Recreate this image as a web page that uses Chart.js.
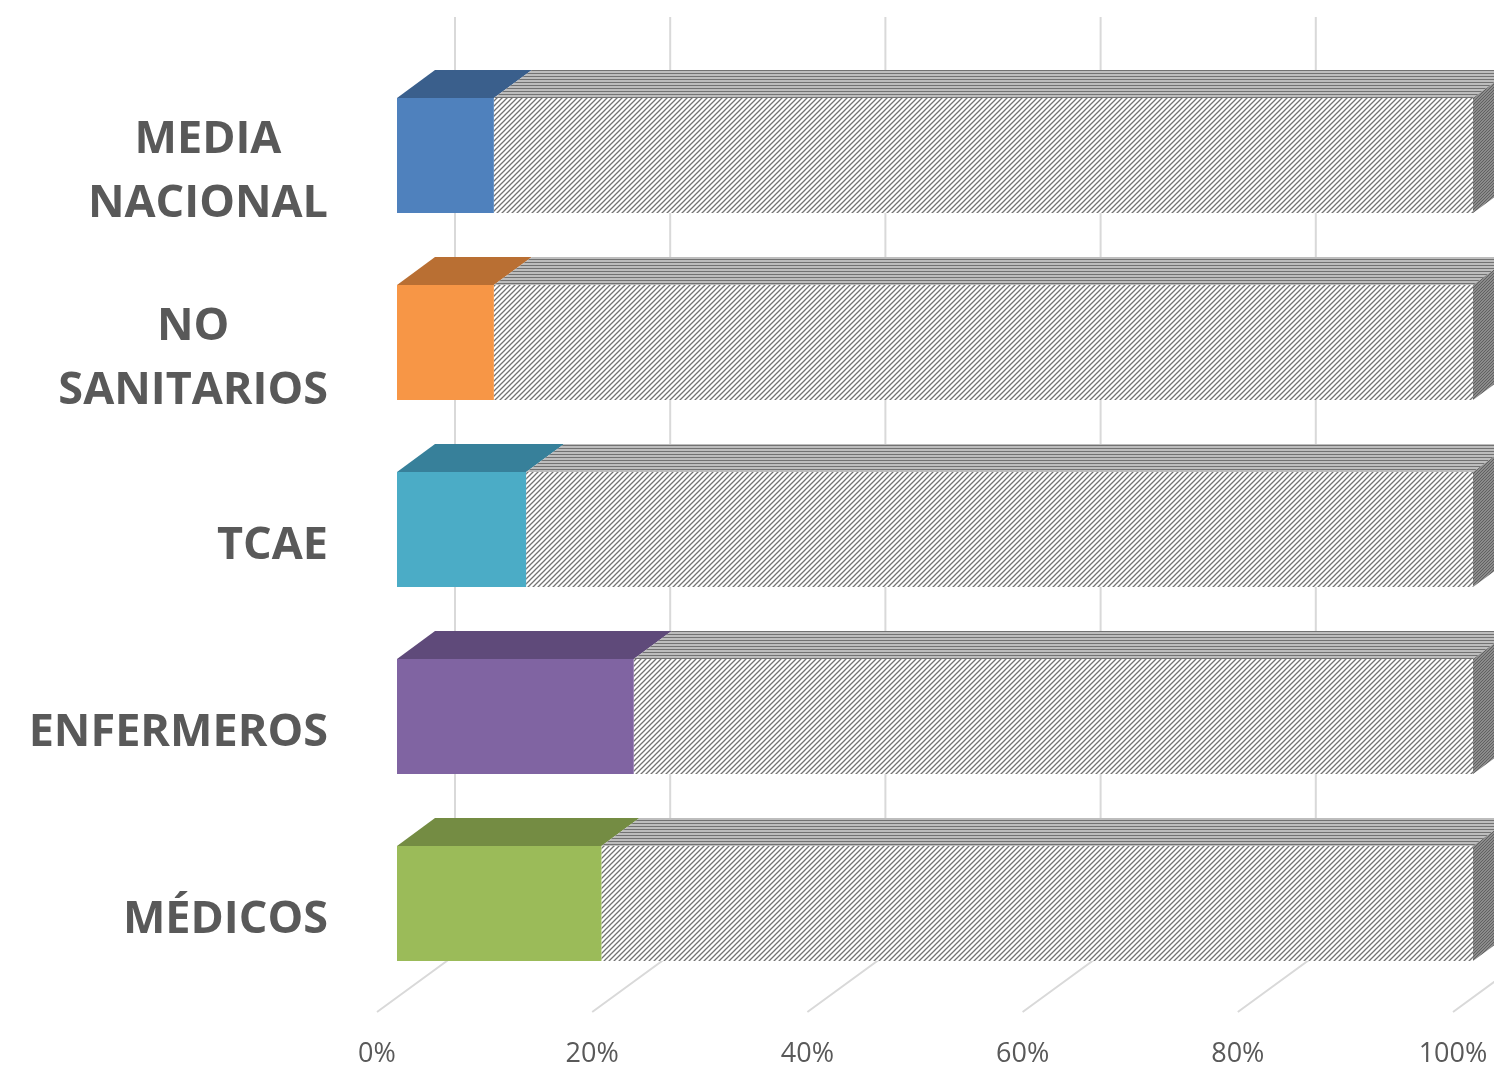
<!DOCTYPE html>
<html>
<head>
<meta charset="utf-8">
<script src="https://cdn.jsdelivr.net/npm/chart.js@4.4.1/dist/chart.umd.min.js"></script>
<style>
    html, body { margin: 0; padding: 0; background: #ffffff; }
    #wrap { width: 1494px; height: 1068px; }
</style>
</head>
<body>
<div id="wrap"><canvas id="grafico" width="1494" height="1068"></canvas></div>
<script>
// Categorías (de arriba abajo) y valores
const categorias = [['MEDIA', 'NACIONAL'], ['NO', 'SANITARIOS'], ['TCAE'], ['ENFERMEROS'], ['MÉDICOS']];
const valoresSi = [0.09, 0.09, 0.12, 0.22, 0.19];
const valoresResto = [0.91, 0.91, 0.88, 0.78, 0.81];
const ticksX = [0, 0.2, 0.4, 0.6, 0.8, 1];

// Colores frente / cara superior
const coloresFrente = ['#4F81BD', '#F79646', '#4BACC6', '#8064A2', '#9BBB59'];
const coloresArriba = ['#3A5F8C', '#B96F33', '#37809A', '#5F4A7A', '#748C43'];

// Profundidad 3D
const DX = 38, DY = 28;

// Trama diagonal para la parte gris
function crearTrama(fondo, linea, tam, grosor, tipo) {
    const c = document.createElement('canvas');
    c.width = tam; c.height = tam;
    const g = c.getContext('2d');
    g.fillStyle = fondo;
    g.fillRect(0, 0, tam, tam);
    g.strokeStyle = linea;
    g.lineWidth = grosor;
    g.beginPath();
    if (tipo === 'diag') {
        g.moveTo(-1, tam + 1); g.lineTo(tam + 1, -1);
        g.moveTo(-1, 1); g.lineTo(1, -1);
        g.moveTo(tam - 1, tam + 1); g.lineTo(tam + 1, tam - 1);
    } else {
        g.moveTo(0, tam / 2); g.lineTo(tam, tam / 2);
    }
    g.stroke();
    return g.createPattern(c, 'repeat');
}

const ctx = document.getElementById('grafico').getContext('2d');
const tramaFrente = crearTrama('#ffffff', '#737373', 5, 1.3, 'diag');
const tramaArriba = crearTrama('#bdbdbd', '#727272', 3, 1, 'horiz');
const tramaLado = crearTrama('#a0a0a0', '#5e5e5e', 3, 1.2, 'diag');

// Plugin: paredes, suelo y caras 3D de las barras
const efecto3D = {
    id: 'efecto3D',
    beforeDatasetsDraw(chart) {
        const c = chart.ctx;
        const area = chart.chartArea;
        const xs = chart.scales.x;
        c.save();
        c.strokeStyle = '#d9d9d9';
        c.lineWidth = 2;
        ticksX.forEach(v => {
            const xf = xs.getPixelForValue(v) - 20;
            const xb = xf + 78;
            c.beginPath();
            c.moveTo(xb, 17);
            c.lineTo(xb, area.bottom - 42);
            c.lineTo(xf, area.bottom + 15);
            c.stroke();
        });
        c.restore();
    },
    afterDatasetsDraw(chart) {
        const c = chart.ctx;
        const ultimo = chart.data.datasets.length - 1;
        c.save();
        chart.data.datasets.forEach((ds, d) => {
            const meta = chart.getDatasetMeta(d);
            meta.data.forEach((bar, i) => {
                const p = bar.getProps(['x', 'y', 'base', 'height'], true);
                const top = p.y - p.height / 2;
                const bot = p.y + p.height / 2;
                // cara superior
                c.fillStyle = d === 0 ? coloresArriba[i] : tramaArriba;
                c.beginPath();
                c.moveTo(p.base, top);
                c.lineTo(p.x, top);
                c.lineTo(p.x + DX, top - DY);
                c.lineTo(p.base + DX, top - DY);
                c.closePath();
                c.fill();
                // cara lateral derecha
                if (d === ultimo) {
                    c.fillStyle = tramaLado;
                    c.beginPath();
                    c.moveTo(p.x, top);
                    c.lineTo(p.x + DX, top - DY);
                    c.lineTo(p.x + DX, bot - DY);
                    c.lineTo(p.x, bot);
                    c.closePath();
                    c.fill();
                }
            });
        });
        c.restore();
    },
    afterDraw(chart) {
        // etiquetas de categoría: bloque alineado a la derecha, líneas centradas
        const c = chart.ctx;
        const ys = chart.scales.y;
        const derecha = chart.chartArea.left - 69;
        const alto = 64;
        c.save();
        c.font = 'bold 45px "Open Sans"';
        c.fillStyle = '#595959';
        c.textAlign = 'center';
        c.textBaseline = 'middle';
        categorias.forEach((lineas, i) => {
            const anchoMax = Math.max(...lineas.map(l => c.measureText(l).width));
            const cx = derecha - anchoMax / 2;
            const cy = ys.getPixelForValue(i) + 17;
            lineas.forEach((l, k) => {
                c.fillText(l, cx, cy + (k - (lineas.length - 1) / 2) * alto);
            });
        });
        c.restore();
    }
};

new Chart(ctx, {
    type: 'bar',
    data: {
        labels: categorias.map(l => l.join(' ')),
        datasets: [
            { label: 'Sí', data: valoresSi, backgroundColor: coloresFrente, borderWidth: 0 },
            { label: 'Resto', data: valoresResto, backgroundColor: tramaFrente, borderWidth: 0 }
        ]
    },
    options: {
        indexAxis: 'y',
        responsive: false,
        animation: false,
        categoryPercentage: 115 / 187,
        barPercentage: 1,
        layout: { padding: { top: 62, right: 21, left: 0, bottom: 0 } },
        plugins: {
            legend: { display: false },
            tooltip: { enabled: false }
        },
        scales: {
            x: {
                stacked: true,
                min: 0,
                max: 1,
                afterBuildTicks: s => { s.ticks = ticksX.map(v => ({ value: v })); },
                afterFit: s => { s.height = 71; s.paddingLeft = 0; s.paddingRight = 0; },
                grid: { display: false },
                border: { display: false },
                ticks: {
                    labelOffset: -20,
                    padding: 33,
                    color: '#595959',
                    font: { family: 'Open Sans', size: 27 },
                    callback: v => Math.round(v * 100) + '%'
                }
            },
            y: {
                stacked: true,
                afterFit: s => { s.width = 397; },
                grid: { display: false },
                border: { display: false },
                ticks: { display: false }
            }
        }
    },
    plugins: [efecto3D]
});
</script>
</body>
</html>
